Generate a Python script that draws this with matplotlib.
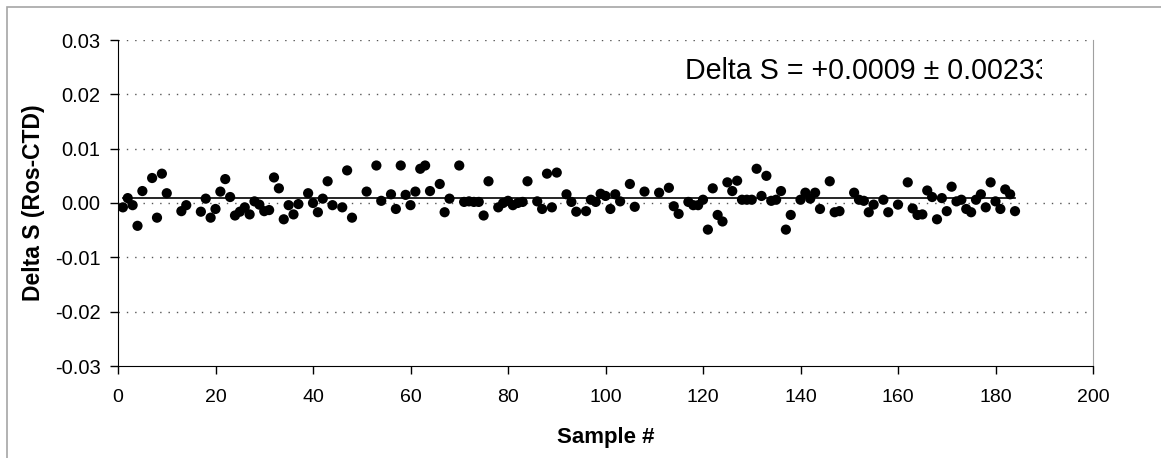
import matplotlib
matplotlib.use("Agg")
import matplotlib.pyplot as plt
from matplotlib.patches import Rectangle
from matplotlib.transforms import Bbox, TransformedBbox

plt.rcParams['font.family'] = ['Liberation Sans', 'DejaVu Sans']

# sample number and salinity difference (rosette - CTD)
sample = [1, 2, 3, 4, 5, 7, 8, 9, 10, 13, 14, 17, 18, 19, 20, 21, 22, 23, 24, 25,
          26, 27, 28, 29, 30, 31, 32, 33, 34, 35, 36, 37, 39, 40, 41, 42, 43, 44, 46, 47,
          48, 51, 53, 54, 56, 57, 58, 59, 60, 61, 62, 63, 64, 66, 67, 68, 70, 71, 72, 73,
          74, 75, 76, 78, 79, 80, 81, 82, 83, 84, 86, 87, 88, 89, 90, 92, 93, 94, 96, 97,
          98, 99, 100, 101, 102, 103, 105, 106, 108, 111, 113, 114, 115, 117, 118, 119, 120, 121, 122, 123,
          124, 125, 126, 127, 128, 129, 130, 131, 132, 133, 134, 135, 136, 137, 138, 140, 141, 142, 143, 144,
          146, 147, 148, 151, 152, 153, 154, 155, 157, 158, 160, 162, 163, 164, 165, 166, 167, 168, 169, 170,
          171, 172, 173, 174, 175, 176, 177, 178, 179, 180, 181, 182, 183, 184]
delta_s = [-0.0008, 0.0009, -0.0004, -0.0042, 0.0022, 0.0046, -0.0027, 0.0054, 0.0018, -0.0015,
           -0.0004, -0.0016, 0.0008, -0.0027, -0.0011, 0.0021, 0.0044, 0.0011, -0.0023, -0.0016,
           -0.0008, -0.0021, 0.0003, -0.0003, -0.0015, -0.0013, 0.0047, 0.0027, -0.0030, -0.0004,
           -0.0021, -0.0002, 0.0018, 0.0000, -0.0017, 0.0008, 0.0040, -0.0004, -0.0008, 0.0060,
           -0.0027, 0.0021, 0.0069, 0.0004, 0.0016, -0.0011, 0.0069, 0.0015, -0.0004, 0.0021,
           0.0063, 0.0069, 0.0022, 0.0035, -0.0017, 0.0008, 0.0069, 0.0002, 0.0003, 0.0002,
           0.0002, -0.0023, 0.0040, -0.0008, 0.0000, 0.0004, -0.0004, 0.0000, 0.0002, 0.0040,
           0.0003, -0.0011, 0.0054, -0.0008, 0.0056, 0.0016, 0.0002, -0.0016, -0.0015, 0.0006,
           0.0002, 0.0017, 0.0013, -0.0011, 0.0016, 0.0003, 0.0035, -0.0007, 0.0021, 0.0019,
           0.0028, -0.0006, -0.0020, 0.0002, -0.0004, -0.0004, 0.0006, -0.0049, 0.0027, -0.0022,
           -0.0034, 0.0038, 0.0022, 0.0041, 0.0006, 0.0006, 0.0006, 0.0063, 0.0013, 0.0050,
           0.0004, 0.0006, 0.0022, -0.0049, -0.0022, 0.0006, 0.0019, 0.0008, 0.0019, -0.0011,
           0.0040, -0.0017, -0.0015, 0.0019, 0.0006, 0.0004, -0.0017, -0.0003, 0.0006, -0.0017,
           -0.0003, 0.0038, -0.0010, -0.0022, -0.0021, 0.0023, 0.0011, -0.0030, 0.0009, -0.0015,
           0.0030, 0.0003, 0.0006, -0.0011, -0.0017, 0.0006, 0.0016, -0.0008, 0.0038, 0.0003,
           -0.0011, 0.0025, 0.0016, -0.0015]
mean_ds = 0.0009
label_text = "Delta S = +0.0009 \u00b1 0.00233"

fig = plt.figure(figsize=(11.61, 4.58), dpi=100)
ax = fig.add_axes([118 / 1161, 1 - 366 / 458, 975 / 1161, 326 / 458])

# outer chart frame (only top/left edges fall inside the image)
fig.patches.append(Rectangle((7 / 1161, -1), 2, 2 - 7 / 458,
                             transform=fig.transFigure, fill=False,
                             edgecolor="#a6a6a6", linewidth=1.2, zorder=0))

for yv in [-0.02, -0.01, 0.0, 0.01, 0.02, 0.03]:
    ax.axhline(yv, color="#555555", linewidth=1.0, linestyle=(0, (1, 5)), zorder=1)

ax.plot([sample[0], sample[-1]], [mean_ds, mean_ds], color="black", linewidth=1.2, zorder=2)
ax.scatter(sample, delta_s, s=54, color="black", edgecolors="none", zorder=3)

# text box is cut off on its right side, as in the original
txt = ax.text(116.3, 0.0243, label_text, fontsize=20.6, va="center", ha="left")
txt.set_clip_box(TransformedBbox(Bbox([[0, -0.03], [189.5, 0.03]]), ax.transData))
txt.set_clip_on(True)

ax.set_xlim(0, 200)
ax.set_ylim(-0.03, 0.03)
ax.set_xticks(range(0, 201, 20))
ax.set_yticks([-0.03, -0.02, -0.01, 0.0, 0.01, 0.02, 0.03])
ax.set_yticklabels(["-0.03", "-0.02", "-0.01", "0.00", "0.01", "0.02", "0.03"])
ax.tick_params(direction="out", length=5.5, width=1, labelsize=14, pad=7)
ax.tick_params(axis="y", labelsize=14.5)
ax.tick_params(axis="x", pad=11)

ax.spines["top"].set_visible(False)
ax.spines["right"].set_color("#a0a0a0")
ax.spines["left"].set_color("black")
ax.spines["bottom"].set_color("black")

ax.set_xlabel("Sample #", fontsize=16, fontweight="bold", labelpad=15)
ax.set_ylabel("Delta S (Ros-CTD)", fontsize=16.5, fontweight="bold", labelpad=7)

fig.savefig("out.png", dpi=100)
